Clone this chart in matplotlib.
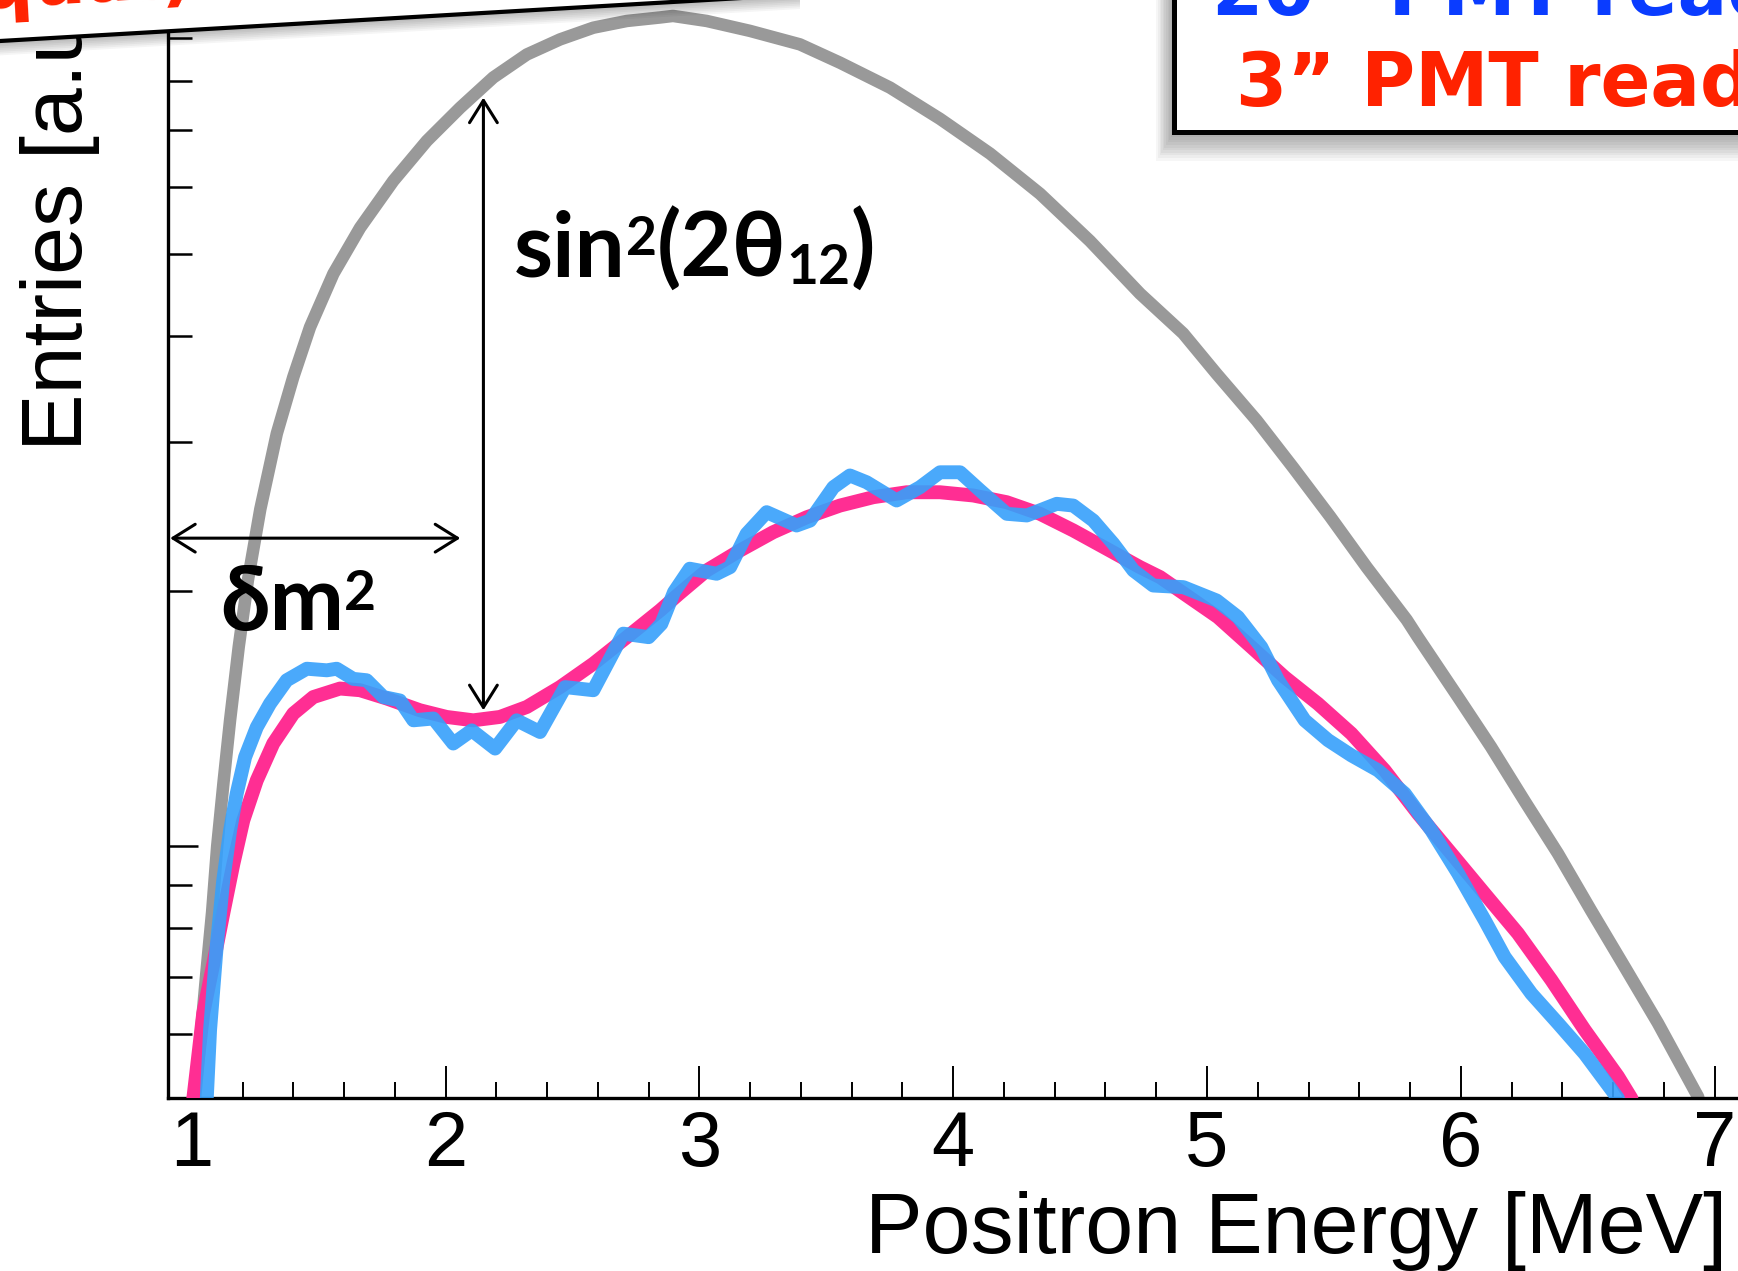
import matplotlib
matplotlib.use("Agg")
import matplotlib.pyplot as plt
from matplotlib.patches import Polygon, Rectangle
from matplotlib.ticker import NullFormatter
from matplotlib.transforms import offset_copy

# ---------------- data ----------------
grey_x = [1.000, 1.013, 1.035, 1.057, 1.080, 1.100, 1.125, 1.151, 1.185, 1.221, 1.270,
          1.335, 1.400, 1.466, 1.558, 1.663, 1.794, 1.926, 2.057, 2.188, 2.320, 2.451,
          2.582, 2.714, 2.845, 2.896, 3.029, 3.199, 3.396, 3.554, 3.751, 3.948, 4.145,
          4.342, 4.539, 4.736, 4.906, 5.038, 5.196, 5.339, 5.485, 5.629, 5.787, 5.831,
          5.989, 6.119, 6.252, 6.383, 6.513, 6.646, 6.777, 6.935, 6.960]
grey_y = [40, 50.4, 59.7, 70.7, 83.6, 100, 119, 141, 172, 206, 250,
          307, 358, 410, 474, 537, 610, 680, 744, 808, 860, 896,
          925, 942, 951, 955, 942, 917, 884, 841, 786, 722, 657,
          589, 518, 449, 403, 361, 318, 280, 245, 213.5, 185, 176.5,
          150, 131, 113, 98, 84, 72, 61.8, 50.6, 47]

pink_x = [1.000, 1.006, 1.045, 1.085, 1.124, 1.164, 1.203, 1.256, 1.321, 1.400, 1.479,
          1.584, 1.663, 1.768, 1.899, 2.004, 2.109, 2.214, 2.320, 2.451, 2.582, 2.714,
          2.845, 2.920, 3.029, 3.160, 3.291, 3.423, 3.554, 3.685, 3.817, 3.948, 4.079,
          4.211, 4.342, 4.473, 4.605, 4.736, 4.815, 5.043, 5.175, 5.306, 5.437, 5.569,
          5.700, 5.831, 5.963, 6.094, 6.225, 6.357, 6.488, 6.619, 6.672, 6.690]
pink_y = [40, 50.4, 63.5, 72.7, 83.3, 95.4, 107.3, 119.6, 132.2, 143.4, 150.0,
          153.5, 152.8, 149.4, 144.7, 142.1, 140.8, 142.1, 146.0, 154.1, 164.2, 176.5,
          189.8, 198.6, 211.6, 223.4, 234.8, 244.5, 252.4, 258.2, 261.7, 261.7, 259.4,
          254.7, 246.8, 235.9, 224.4, 213.5, 207.8, 186.4, 171.8, 158.3, 147.3, 135.8,
          122.9, 109.3, 98.0, 87.9, 78.9, 69.5, 60.7, 53.5, 50.4, 46]

blue_x = [1.052, 1.059, 1.072, 1.098, 1.124, 1.151, 1.177, 1.210, 1.256, 1.308, 1.374,
          1.453, 1.532, 1.571, 1.636, 1.689, 1.755, 1.820, 1.873, 1.952, 2.030, 2.103,
          2.195, 2.280, 2.372, 2.471, 2.582, 2.700, 2.800, 2.850, 2.900, 2.962, 3.068,
          3.121, 3.186, 3.265, 3.383, 3.436, 3.528, 3.593, 3.659, 3.777, 3.869, 3.948,
          4.027, 4.106, 4.211, 4.290, 4.408, 4.473, 4.552, 4.631, 4.710, 4.788, 4.907,
          5.038, 5.122, 5.214, 5.280, 5.385, 5.477, 5.569, 5.674, 5.779, 5.884, 5.989,
          6.094, 6.173, 6.278, 6.383, 6.488, 6.619, 6.640]
blue_y = [45, 50.4, 60.7, 76.1, 91.2, 104.4, 115.4, 127.4, 138.2, 147.3, 157.0,
          162.0, 161.3, 162.0, 157.6, 157.0, 150.0, 148.6, 140.8, 141.5, 132.2, 137.0,
          130.4, 140.8, 136.4, 154.1, 152.8, 178.2, 176.5, 183.0, 199.5, 212.6, 209.7,
          213.5, 233.7, 247.9, 239.1, 242.3, 265.3, 273.9, 268.9, 255.9, 265.3, 276.3,
          276.3, 263.0, 246.8, 245.7, 253.6, 252.4, 242.3, 227.5, 211.6, 203.1, 202.2,
          195.0, 186.4, 171.8, 157.0, 140.8, 133.4, 128.0, 122.9, 115.4, 104.4, 92.9,
          81.8, 74.0, 67.0, 61.8, 56.9, 50.4, 47]

x_ticks = [1, 2, 3, 4, 5, 6, 7]
x_tick_labels = ["1", "2", "3", "4", "5", "6", "7"]
x_minor = [1.2, 1.4, 1.6, 1.8, 2.2, 2.4, 2.6, 2.8, 3.2, 3.4, 3.6, 3.8, 4.2, 4.4, 4.6, 4.8,
           5.2, 5.4, 5.6, 5.8, 6.2, 6.4, 6.6, 6.8]
y_major = [100]
y_minor = [60, 70, 80, 90, 200, 300, 400, 500, 600, 700, 800, 900]

# annotation anchors (data space)
vert_arrow = (2.149, 144.7, 765)      # x, y_low, y_high
horiz_arrow = (0.9145, 2.058, 231)    # x_left, x_right, y
sin_pos = (2.27, 470)
dm_pos = (1.112, 180)

# ---------------- figure ----------------
W, H = 1738, 1271
fig = plt.figure(figsize=(W / 100, H / 100), dpi=100)
ax = fig.add_axes([0.09663, 0.13643, 0.91911, 0.86436])
ax.set_yscale("log")
ax.set_xlim(0.906, 7.2)
ax.set_ylim(50.5, 1000)

ax.plot(grey_x, grey_y, color="#999999", lw=9, solid_joinstyle="round", zorder=2)
ax.plot(pink_x, pink_y, color="#ff2e93", lw=10, solid_joinstyle="round", zorder=3)
ax.plot(blue_x, blue_y, color="#36a0fb", lw=10, alpha=0.9, solid_joinstyle="round", zorder=4)

# ticks
ax.set_xticks(x_ticks, labels=x_tick_labels)
ax.set_xticks(x_minor, minor=True)
ax.set_yticks(y_major)
ax.set_yticks(y_minor, minor=True)
ax.yaxis.set_major_formatter(NullFormatter())
ax.yaxis.set_minor_formatter(NullFormatter())
ax.tick_params(axis="x", which="major", direction="in", length=23, width=1.4, pad=8,
               labelsize=56)
ax.tick_params(axis="x", which="minor", direction="in", length=11.5, width=1.4)
ax.tick_params(axis="y", which="major", direction="in", length=21.6, width=1.8)
ax.tick_params(axis="y", which="minor", direction="in", length=17.3, width=1.8)
for lab in ax.get_xticklabels():
    lab.set_family("Liberation Sans")
for s in ("top", "right"):
    ax.spines[s].set_visible(False)
for s in ("left", "bottom"):
    ax.spines[s].set_linewidth(2.4)

ax.set_xlabel("Positron Energy [MeV]", fontsize=62, family="Liberation Sans",
              ha="left", va="baseline")
ax.xaxis.set_label_coords(0.4361, -0.1415)
ax.set_ylabel("Entries [a.u.]", fontsize=62, family="Liberation Sans",
              rotation=90, rotation_mode="anchor", ha="left", va="baseline")
ax.yaxis.set_label_coords(-0.054, 0.5886)

# arrows
aprops = dict(arrowstyle="<->,head_length=0.8,head_width=0.5", mutation_scale=20,
              lw=2.2, color="black", shrinkA=0, shrinkB=0)
ax.annotate("", xy=(vert_arrow[0], vert_arrow[2]), xytext=(vert_arrow[0], vert_arrow[1]),
            arrowprops=aprops, annotation_clip=False)
ax.annotate("", xy=(horiz_arrow[1], horiz_arrow[2]), xytext=(horiz_arrow[0], horiz_arrow[2]),
            arrowprops=aprops, annotation_clip=False)

# annotation texts built from pieces (superscript / subscript placed by hand)
renderer = fig.canvas.get_renderer()
def pieces_text(x, y, pieces, size):
    dx = 0.0
    for txt, scale, rise in pieces:
        tr = offset_copy(ax.transData, fig=fig, x=dx, y=rise * size, units="points")
        t = ax.text(x, y, txt, transform=tr, fontsize=size * scale, weight="bold",
                    family=["Lato", "DejaVu Sans"], ha="left", va="baseline", zorder=6)
        dx += t.get_window_extent(renderer).width * 72.0 / fig.dpi

pieces_text(sin_pos[0], sin_pos[1],
            [("sin", 1, 0), ("2", 0.6, 0.24), ("(2θ", 1, 0), ("12", 0.62, -0.08), (")", 1, 0)],
            64)
pieces_text(dm_pos[0], dm_pos[1], [("δm", 1, 0), ("2", 0.62, 0.23)], 64)

# ---------------- overlay (slide boxes) in pixel coordinates ----------------
ov = fig.add_axes([0, 0, 1, 1], zorder=10)
ov.set_xlim(0, W)
ov.set_ylim(H, 0)
ov.axis("off")

# tilted box top-left
slope = -0.058
def yb(x, off=0.0):
    return 41 + slope * x + off
for k in range(1, 9):
    ov.add_patch(Polygon([(-30, yb(-30, 1.8 * k)), (800, yb(800, 1.8 * k)),
                          (800, -300), (-30, -300)], closed=True,
                         facecolor="black", edgecolor="none", alpha=0.04))
ov.add_patch(Polygon([(-30, yb(-30)), (800, yb(800)), (800, -300), (-30, -300)],
                     closed=True, facecolor="white", edgecolor="black", lw=3.0))
ov.text(195, -4, "(equal)", rotation=3.32, rotation_mode="anchor", ha="right",
        va="baseline", fontsize=53, weight="bold", color="#ff2200", family="DejaVu Sans")

# box top-right
for k in range(1, 12):
    ov.add_patch(Rectangle((1174 - 1.6 * k, -50), 700, 182 + 2.6 * k,
                           facecolor="black", edgecolor="none", alpha=0.035))
ov.add_patch(Rectangle((1174, -50), 700, 182, facecolor="white", edgecolor="black", lw=3.6))
ov.text(1212, 15, "20” PMT readout", fontsize=53, weight="bold", color="#0a3cff",
        family="DejaVu Sans", ha="left", va="baseline")
ov.text(1236, 106, "3” PMT readout", fontsize=53, weight="bold", color="#ff2200",
        family="DejaVu Sans", ha="left", va="baseline")

fig.savefig("out.png", dpi=100)
